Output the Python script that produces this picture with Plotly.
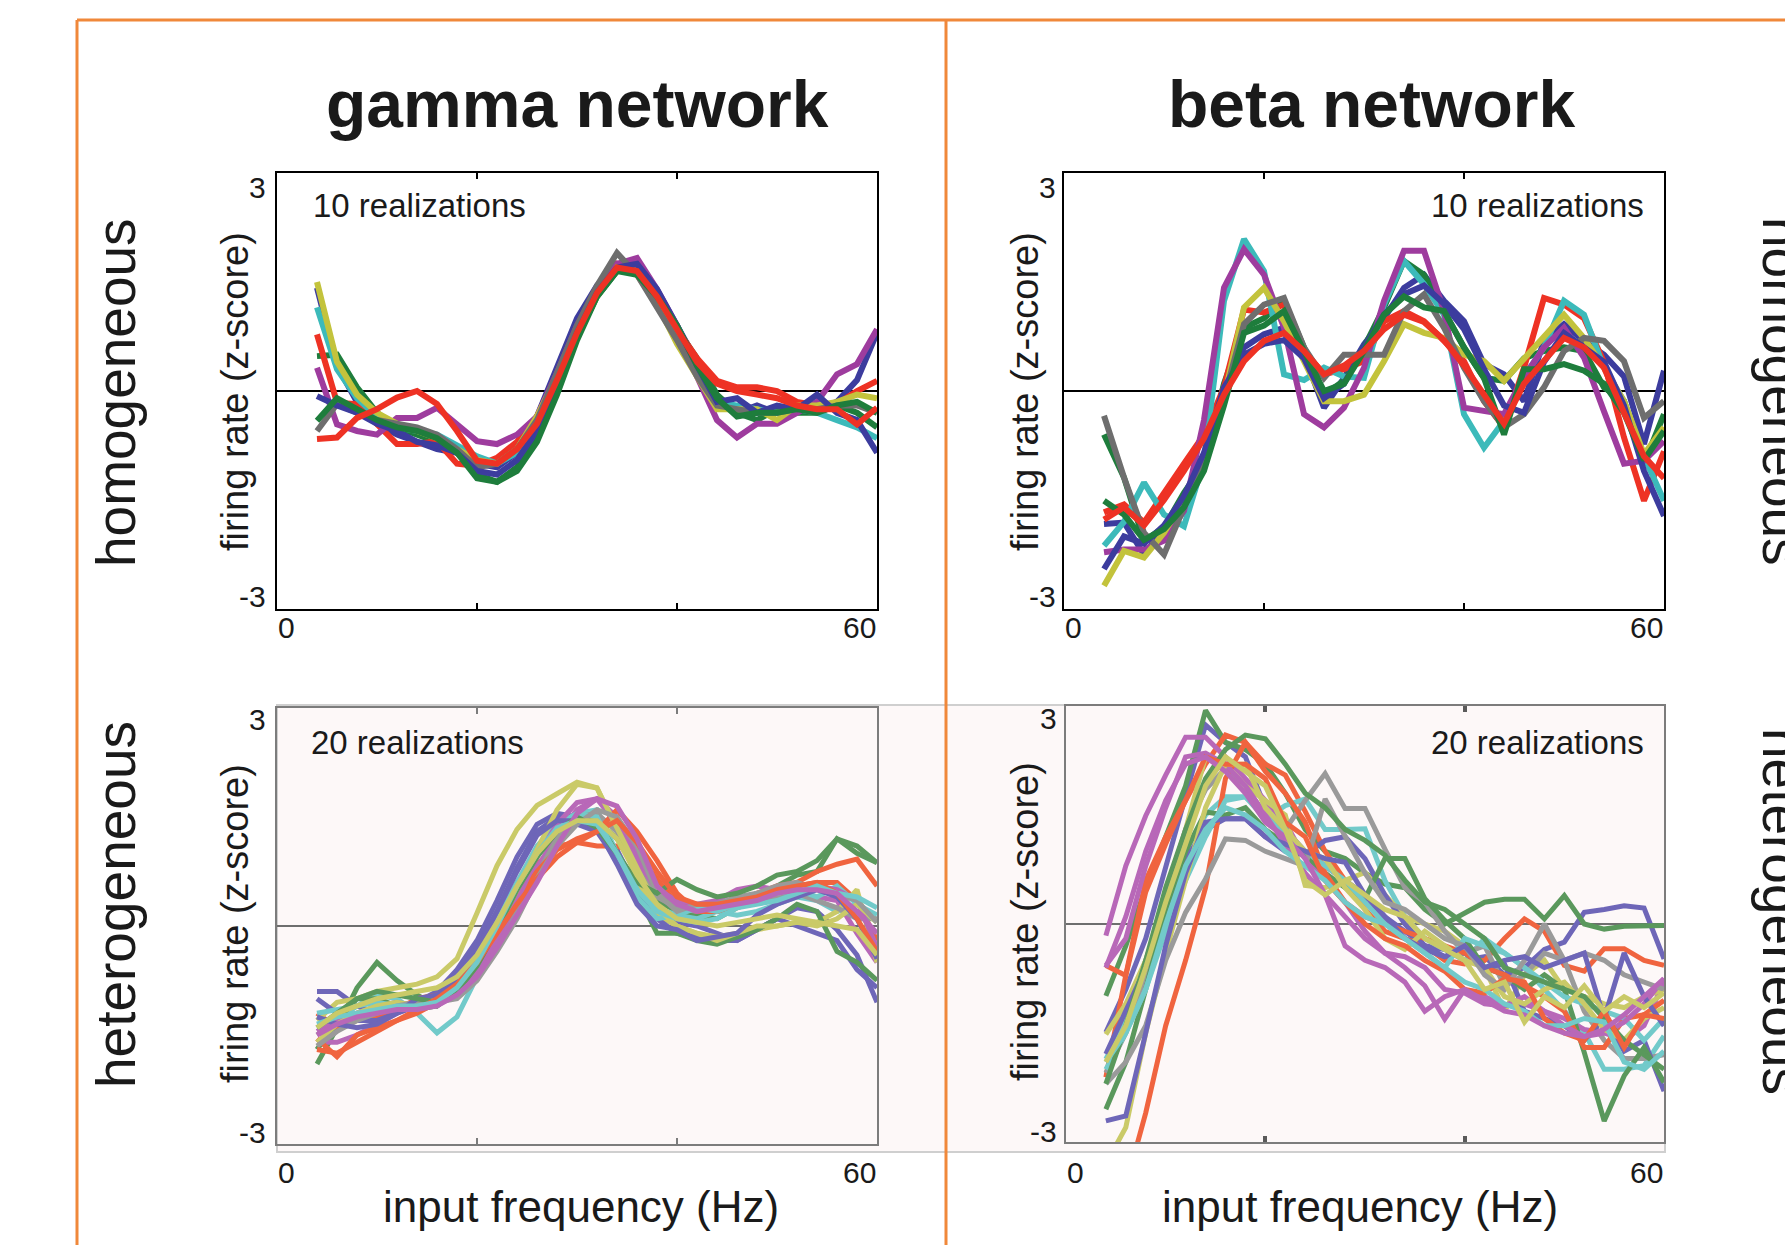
import plotly.graph_objects as go

W, H = 1785, 1245
FONT = "Liberation Sans, Arial, sans-serif"

# ---------------- data ----------------
X_HZ = [4, 6, 8, 10, 12, 14, 16, 18, 20, 22, 24, 26, 28, 30, 32, 34, 36, 38, 40, 42, 44, 46, 48, 50, 52, 54, 56, 58, 60]

COLUMN_TITLES = ["gamma network", "beta network"]
ROW_LABELS = ["homogeneous", "heterogeneous"]
Y_TITLE = "firing rate (z-score)"
X_TITLE = "input frequency (Hz)"
COUNT_LABELS = ["10 realizations", "20 realizations"]
X_TICK_LABELS = ["0", "60"]
Y_TICK_LABELS = ["3", "-3"]

# gamma network, homogeneous (10 realizations)
GAMMA_HOMO = [
    [1.42, 0.35, -0.15, -0.45, -0.6, -0.7, -0.8, -0.85, -1.0, -1.05, -0.85, -0.35, 0.35, 1.0, 1.45, 1.75, 1.7, 1.35, 0.9, 0.4, -0.1, -0.3, -0.2, -0.3, -0.25, -0.25, -0.15, 0.15, 0.8],
    [0.48, 0.5, 0.05, -0.3, -0.5, -0.6, -0.7, -0.8, -1.15, -1.25, -1.05, -0.6, 0.05, 0.75, 1.3, 1.65, 1.65, 1.35, 0.85, 0.45, -0.05, -0.3, -0.4, -0.25, -0.3, -0.3, -0.2, -0.3, -0.5],
    [0.78, -0.16, -0.18, -0.46, -0.73, -0.73, -0.69, -1.0, -1.03, -0.92, -0.7, -0.35, 0.2, 0.85, 1.4, 1.75, 1.7, 1.3, 0.85, 0.45, 0.14, 0.05, 0.05, 0.0, -0.15, -0.2, -0.18, 0.0, 0.14],
    [1.15, 0.3, -0.1, -0.35, -0.5, -0.55, -0.6, -0.75, -0.9, -1.0, -0.85, -0.45, 0.15, 0.8, 1.4, 1.7, 1.65, 1.3, 0.8, 0.3, -0.15, -0.2, -0.25, -0.3, -0.25, -0.3, -0.4, -0.5, -0.65],
    [0.32, -0.46, -0.55, -0.6, -0.37, -0.37, -0.23, -0.46, -0.69, -0.73, -0.6, -0.35, 0.25, 0.9, 1.4, 1.75, 1.83, 1.4, 0.9, 0.2, -0.4, -0.64, -0.45, -0.45, -0.3, -0.15, 0.23, 0.37, 0.85],
    [1.5, 0.4, -0.05, -0.3, -0.45, -0.55, -0.65, -0.8, -0.95, -1.0, -0.8, -0.35, 0.2, 0.75, 1.3, 1.7, 1.6, 1.2, 0.65, 0.2, -0.25, -0.25, -0.25, -0.4, -0.2, -0.2, -0.15, -0.05, -0.1],
    [-0.55, -0.18, -0.3, -0.4, -0.45, -0.5, -0.6, -0.8, -1.05, -1.0, -0.8, -0.4, 0.25, 0.9, 1.45, 1.9, 1.6, 1.15, 0.7, 0.2, -0.2, -0.25, -0.3, -0.3, -0.25, -0.25, -0.2, -0.2, -0.3],
    [-0.07, -0.2, -0.3, -0.45, -0.55, -0.7, -0.75, -0.85, -1.1, -1.15, -0.95, -0.55, 0.1, 0.8, 1.35, 1.7, 1.75, 1.4, 0.9, 0.35, -0.15, -0.1, -0.3, -0.2, -0.25, -0.05, -0.3, -0.4, -0.85],
    [-0.41, -0.1, -0.25, -0.4, -0.5, -0.55, -0.65, -0.85, -1.2, -1.25, -1.1, -0.7, -0.05, 0.7, 1.3, 1.65, 1.6, 1.3, 0.9, 0.35, -0.1, -0.35, -0.3, -0.3, -0.25, -0.3, -0.2, -0.15, -0.3],
    [-0.66, -0.64, -0.37, -0.25, -0.09, 0.0, -0.18, -0.55, -0.96, -1.0, -0.8, -0.45, 0.15, 0.8, 1.35, 1.7, 1.65, 1.3, 0.85, 0.4, 0.1, 0.0, -0.05, -0.1, -0.2, -0.25, -0.25, -0.46, -0.23],
]

# beta network, homogeneous (10 realizations)
BETA_HOMO = [
    [-1.83, -1.81, -2.25, -1.9, -1.5, -0.9, 0.0, 0.6, 0.78, 0.87, 0.5, -0.23, 0.18, 0.64, 1.0, 1.42, 1.6, 1.24, 0.96, 0.37, 0.23, -0.14, 0.69, 0.92, 0.69, 0.5, 0.2, -0.73, 0.28],
    [-0.6, -1.19, -2.06, -1.88, -1.4, -1.0, 0.1, 0.87, 1.0, 1.24, 0.6, -0.05, 0.14, 0.6, 1.15, 1.79, 1.6, 1.1, 0.6, 0.18, 0.14, 0.45, 0.55, 0.6, 0.55, 0.05, -0.14, -1.0, -0.32],
    [-1.67, -1.56, -1.81, -1.42, -1.0, -0.6, 0.05, 1.12, 1.08, 1.19, 0.55, 0.23, 0.3, 0.41, 0.96, 1.1, 0.96, 0.69, 0.41, -0.14, -0.5, 0.32, 1.28, 1.19, 1.0, 0.4, -0.64, -1.51, -0.83],
    [-2.13, -1.8, -1.26, -1.7, -1.86, -0.96, 1.24, 2.09, 1.65, 0.23, 0.15, 0.32, 0.2, 0.18, 1.19, 1.79, 1.47, 1.05, -0.32, -0.78, -0.41, 0.2, 0.6, 1.24, 1.05, 0.32, -0.14, -0.9, -1.51],
    [-2.22, -2.18, -2.18, -2.06, -1.65, -0.4, 1.42, 1.95, 1.6, 0.87, -0.32, -0.5, -0.23, 0.32, 1.24, 1.93, 1.93, 1.1, -0.23, -0.28, -0.32, 0.2, 0.6, 0.87, 0.46, -0.28, -1.0, -0.96, -0.69],
    [-2.68, -2.2, -2.29, -1.95, -1.5, -1.0, -0.1, 1.15, 1.42, 0.96, 0.41, -0.14, -0.14, -0.05, 0.41, 0.92, 0.8, 0.73, 0.5, 0.41, 0.14, 0.45, 0.75, 1.05, 0.73, 0.32, -0.14, -0.87, -0.5],
    [-0.34, -1.19, -1.95, -2.25, -1.6, -1.0, -0.1, 0.92, 1.19, 1.28, 0.6, 0.18, 0.5, 0.5, 0.5, 1.1, 1.33, 0.87, 0.32, -0.14, -0.5, -0.32, 0.05, 0.55, 0.73, 0.69, 0.41, -0.37, -0.14],
    [-2.45, -2.0, -2.1, -1.85, -1.45, -0.85, 0.05, 0.5, 0.65, 0.7, 0.45, -0.1, 0.1, 0.6, 1.05, 1.33, 1.45, 1.2, 0.85, 0.3, -0.2, -0.3, 0.4, 0.8, 0.6, 0.4, -0.2, -1.1, -1.72],
    [-1.51, -1.7, -2.05, -1.9, -1.6, -1.1, -0.2, 0.8, 0.9, 1.1, 0.55, 0.0, 0.1, 0.55, 1.05, 1.3, 1.15, 1.1, 0.6, 0.18, -0.6, 0.3, 0.3, 0.37, 0.28, 0.1, -0.3, -0.95, -0.55],
    [-1.77, -1.6, -1.85, -1.5, -1.1, -0.65, -0.05, 0.41, 0.69, 0.8, 0.55, 0.23, 0.35, 0.55, 0.85, 1.05, 0.95, 0.7, 0.35, -0.05, -0.45, 0.1, 0.4, 0.73, 0.6, 0.32, -0.3, -0.9, -1.2],
]

# gamma network, heterogeneous (20 realizations)
GAMMA_HETERO = [
    [-0.9, -0.9, -1.1, -1.2, -1.15, -1.05, -0.9, -0.6, -0.2, 0.35, 0.95, 1.4, 1.55, 1.5, 1.35, 1.05, 0.5, 0.15, 0.05, 0.0, -0.1, -0.2, -0.05, 0.1, 0.25, 0.2, -0.05, -0.4, -1.05],
    [-1.9, -1.4, -0.85, -0.5, -0.75, -0.95, -1.1, -0.9, -0.6, -0.1, 0.5, 1.0, 1.3, 1.45, 1.45, 1.2, 0.85, 0.35, 0.2, 0.15, 0.1, 0.25, 0.35, 0.55, 0.7, 0.75, 1.2, 1.0, 0.87],
    [-1.2, -1.4, -1.3, -1.25, -1.15, -1.0, -0.95, -0.8, -0.45, 0.0, 0.45, 0.85, 1.1, 1.15, 1.1, 1.1, 1.0, 0.65, 0.3, 0.2, 0.25, 0.3, 0.35, 0.45, 0.55, 0.6, 0.6, 0.35, -0.2],
    [-1.4, -1.3, -1.1, -0.95, -1.0, -1.2, -1.47, -1.25, -0.7, -0.1, 0.55, 1.05, 1.35, 1.55, 1.6, 1.0, 0.55, 0.25, 0.15, 0.1, 0.2, 0.15, 0.2, 0.3, 0.4, 0.35, 0.2, 0.3, 0.15],
    [-1.6, -1.6, -1.5, -1.35, -1.2, -1.1, -1.0, -0.85, -0.55, -0.2, 0.3, 0.8, 1.25, 1.6, 1.75, 1.5, 1.0, 0.45, 0.3, 0.25, 0.3, 0.35, 0.45, 0.5, 0.45, 0.4, 0.35, -0.1, -0.5],
    [-1.3, -1.05, -1.0, -0.9, -0.85, -0.8, -0.7, -0.45, 0.18, 0.83, 1.33, 1.66, 1.82, 1.98, 1.9, 1.3, 0.65, 0.15, 0.0, -0.1, -0.15, -0.1, -0.05, 0.0, 0.05, 0.05, 0.2, 0.5, -0.5],
    [-1.5, -1.3, -1.2, -1.1, -1.05, -1.1, -1.05, -0.95, -0.7, -0.3, 0.2, 0.7, 1.2, 1.5, 1.55, 1.3, 0.85, 0.4, 0.25, 0.2, 0.2, 0.3, 0.35, 0.4, 0.45, 0.35, 0.25, 0.1, 0.1],
    [-1.0, -1.2, -1.3, -1.3, -1.2, -1.1, -1.0, -0.7, -0.3, 0.2, 0.8, 1.3, 1.5, 1.4, 1.3, 0.9, 0.35, 0.1, -0.1, -0.15, -0.2, -0.2, -0.05, 0.1, 0.0, -0.1, -0.2, -0.6, -0.85],
    [-1.7, -1.3, -1.0, -1.0, -1.1, -1.15, -1.1, -0.85, -0.45, 0.05, 0.6, 1.0, 1.35, 1.5, 1.45, 1.0, 0.45, -0.1, -0.1, -0.2, -0.25, -0.15, -0.05, 0.1, 0.3, 0.2, -0.35, -0.5, -0.75],
    [-1.55, -1.8, -1.5, -1.4, -1.3, -1.2, -1.05, -0.85, -0.55, -0.15, 0.35, 0.75, 1.05, 1.2, 1.3, 1.6, 1.3, 0.9, 0.45, 0.2, 0.2, 0.3, 0.45, 0.55, 0.6, 0.75, 0.85, 0.92, 0.55],
    [-1.2, -1.15, -1.1, -1.05, -1.1, -1.15, -1.0, -0.8, -0.4, 0.1, 0.6, 1.1, 1.4, 1.55, 1.5, 0.95, 0.4, 0.1, 0.15, 0.25, 0.2, 0.3, 0.4, 0.45, 0.5, 0.4, 0.55, 0.3, 0.05],
    [-1.45, -1.3, -1.2, -1.15, -1.1, -1.05, -1.1, -0.9, -0.6, -0.2, 0.35, 0.95, 1.4, 1.7, 1.75, 1.4, 0.9, 0.5, 0.35, 0.3, 0.35, 0.5, 0.55, 0.5, 0.45, 0.55, 0.5, 0.35, -0.3],
    [-1.6, -1.35, -1.2, -1.1, -1.05, -1.1, -1.0, -0.85, -0.5, -0.05, 0.5, 1.05, 1.6, 1.95, 1.9, 1.35, 0.8, 0.25, 0.0, -0.1, -0.2, -0.1, 0.0, 0.0, 0.05, 0.0, 0.1, 0.3, 0.05],
    [-1.65, -1.45, -1.3, -1.2, -1.1, -1.05, -1.05, -1.0, -0.75, -0.35, 0.1, 0.65, 1.1, 1.4, 1.6, 1.5, 1.1, 0.45, 0.2, 0.3, 0.3, 0.4, 0.45, 0.55, 0.6, 0.5, 0.45, 0.35, 0.05],
    [-1.25, -1.35, -1.4, -1.35, -1.2, -1.0, -0.95, -0.75, -0.35, 0.2, 0.75, 1.25, 1.45, 1.45, 1.35, 0.85, 0.3, 0.0, -0.05, -0.2, -0.15, -0.1, 0.15, 0.3, 0.4, 0.5, 0.4, 0.1, -0.45],
    [-1.4, -1.2, -1.0, -0.9, -0.95, -1.0, -1.05, -0.9, -0.55, -0.05, 0.5, 0.95, 1.3, 1.5, 1.35, 1.0, 0.6, 0.45, 0.64, 0.5, 0.4, 0.45, 0.55, 0.7, 0.75, 0.9, 1.2, 1.1, 0.87],
    [-1.7, -1.75, -1.6, -1.45, -1.3, -1.15, -1.0, -0.8, -0.5, -0.1, 0.3, 0.65, 0.95, 1.15, 1.3, 1.45, 1.15, 0.75, 0.4, 0.3, 0.3, 0.35, 0.4, 0.5, 0.55, 0.6, 0.45, 0.1, -0.35],
    [-1.35, -1.25, -1.2, -1.15, -1.1, -1.1, -1.05, -0.85, -0.5, 0.0, 0.55, 1.0, 1.35, 1.45, 1.4, 1.0, 0.5, 0.2, 0.1, 0.05, 0.1, 0.25, 0.3, 0.35, 0.45, 0.55, 0.45, 0.4, 0.25],
    [-1.5, -1.35, -1.25, -1.2, -1.15, -1.15, -1.1, -0.95, -0.7, -0.3, 0.15, 0.6, 1.1, 1.55, 1.75, 1.65, 1.2, 0.55, 0.3, 0.2, 0.25, 0.3, 0.35, 0.45, 0.5, 0.5, 0.45, 0.2, -0.1],
    [-1.4, -1.2, -1.1, -1.0, -0.95, -0.9, -0.85, -0.7, -0.4, 0.05, 0.55, 1.0, 1.3, 1.45, 1.45, 1.2, 0.7, 0.3, 0.1, 0.05, 0.0, 0.05, 0.1, 0.15, 0.1, 0.05, 0.0, -0.05, -0.4],
]

# beta network, heterogeneous (20 realizations)
BETA_HETERO = [
    [-1.49, -0.9, -0.2, 0.8, 1.8, 2.74, 2.5, 2.3, 1.6, 1.3, 1.0, 0.8, 0.6, 0.4, 0.1, -0.1, -0.3, -0.35, -0.5, -0.45, -0.7, -0.6, -0.35, -0.25, 0.16, 0.2, 0.25, 0.22, -0.48],
    [-0.99, -0.3, 0.5, 1.2, 1.9, 2.94, 2.5, 2.4, 2.2, 1.8, 1.3, 1.0, 0.9, 0.7, 0.55, 0.5, 0.2, 0.0, 0.15, 0.3, 0.34, 0.34, 0.07, 0.39, 0.0, -0.07, -0.03, -0.03, -0.02],
    [-2.11, -0.7, 0.6, 1.2, 1.7, 2.2, 2.6, 2.5, 2.2, 2.05, 1.55, 1.0, 0.6, 0.2, -0.1, -0.2, -0.3, -0.5, -0.55, -0.5, -0.2, 0.07, -0.1, -0.57, -0.65, -0.34, -0.34, -0.5, -0.57],
    [-1.86, -1.3, -0.5, 0.3, 1.0, 1.5, 1.75, 1.75, 1.45, 1.63, 1.72, 1.3, 1.3, 1.31, 0.6, 0.1, -0.2, -0.35, -0.5, -0.2, -0.4, -0.6, -0.9, -1.2, -1.49, -2.0, -2.0, -1.95, -1.54],
    [-0.16, 0.8, 1.49, 2.05, 2.57, 2.57, 2.3, 2.0, 1.7, 1.4, 0.9, 0.6, 0.3, -0.1, -0.4, -0.45, -0.6, -0.9, -0.95, -1.1, -1.13, -1.1, -1.2, -1.3, -1.45, -1.5, -1.6, -1.4, -0.8],
    [-1.52, -1.1, -0.5, 0.3, 1.3, 2.3, 2.2, 1.9, 1.7, 1.5, 0.53, 0.5, 0.6, 0.71, 0.4, 0.1, 0.0, -0.1, -0.3, -0.6, -1.2, -0.7, -0.5, -0.9, -1.0, -1.1, -1.15, -1.0, -0.9],
    [-2.05, -1.5, -0.7, 0.4, 1.3, 1.85, 2.14, 1.9, 1.5, 1.3, 1.7, 2.07, 1.59, 1.59, 1.03, 0.5, 0.3, -0.1, -0.4, -0.3, -0.85, -0.7, -0.4, -0.5, -1.2, -1.6, -1.85, -1.85, -1.8],
    [-1.79, -1.2, -0.6, 0.2, 0.9, 1.3, 1.45, 1.45, 1.2, 1.0, 0.95, 1.15, 1.2, 0.9, 0.4, 0.0, -0.3, -0.45, -0.4, -0.6, -0.55, -1.2, -1.3, -1.4, -1.6, -1.3, -1.75, -1.6, -2.3],
    [-2.55, -1.9, -0.9, 0.2, 1.0, 1.54, 1.5, 1.6, 1.3, 1.1, 0.95, 0.7, 0.5, 0.35, 0.9, 0.9, 0.35, 0.05, -0.2, -0.6, -0.7, -0.9, -0.7, -0.9, -1.77, -2.71, -2.09, -1.7, -2.18],
    [-4.8, -3.6, -2.6, -1.4, -0.5, 0.5, 2.0, 2.5, 2.1, 1.8, 1.4, 0.7, 0.3, 0.1, 0.0, -0.1, -0.2, -0.3, -0.4, -0.6, -0.7, -0.85, -1.0, -1.2, -1.7, -1.7, -1.3, -1.25, -1.05],
    [-2.0, -1.5, -0.9, -0.1, 0.6, 1.2, 1.7, 1.75, 1.5, 1.2, 1.0, 0.8, 0.6, 0.3, 0.0, -0.2, -0.4, -0.6, -0.2, -0.3, -0.4, -0.6, -0.8, -1.0, -1.1, -1.2, -1.3, -1.6, -1.3],
    [-0.57, -0.2, 0.8, 1.6, 2.3, 2.35, 2.2, 1.9, 1.5, 1.1, 0.7, 0.4, 0.1, -0.2, -0.4, -0.6, -0.85, -1.31, -0.9, -1.0, -1.13, -1.0, -1.2, -1.4, -1.55, -1.5, -1.35, -1.1, -0.75],
    [-3.3, -2.8, -1.5, -0.4, 0.6, 1.6, 2.2, 2.2, 1.6, 1.3, 1.0, 0.9, 0.5, 0.2, -0.2, -0.35, -0.1, -0.3, -0.5, -0.6, -1.0, -1.1, -0.9, -0.8, -1.1, -1.45, -1.6, -1.3, -1.15],
    [-2.2, -1.9, -1.4, -0.5, 0.16, 0.62, 1.17, 1.15, 1.0, 0.9, 0.8, 1.72, 1.2, 0.7, 0.3, 0.2, 0.0, -0.2, -0.3, -0.7, -0.9, -0.5, 0.0, -0.5, -0.4, -0.5, -0.7, -0.8, -0.9],
    [-2.71, -2.64, -1.5, -0.3, 0.7, 1.4, 1.45, 1.45, 1.2, 1.1, 1.0, 0.9, 0.85, 0.4, 0.1, -0.2, -0.35, -0.45, -0.3, -0.6, -0.5, -0.45, -0.6, -0.5, -0.4, -1.3, -0.4, -1.0, -1.4],
    [-2.2, -1.4, -0.5, 0.5, 1.3, 2.0, 2.4, 2.6, 2.55, 2.2, 1.8, 1.6, 1.3, 1.15, 0.95, 0.6, 0.3, 0.2, 0.0, -0.2, -0.6, -0.7, -0.8, -0.9, -1.0, -1.3, -1.6, -1.8, -2.0],
    [-0.57, -0.71, 0.44, 1.1, 1.7, 2.3, 2.2, 2.2, 2.0, 1.4, 1.2, 0.6, 0.3, 0.0, -0.2, -0.3, -0.5, -0.65, -0.9, -0.95, -0.75, -0.8, -1.3, -1.5, -1.6, -1.2, -1.7, -1.25, -1.3],
    [-1.9, -1.5, -0.9, 0.0, 0.8, 1.3, 1.6, 1.5, 1.3, 1.0, 0.8, 0.6, 0.3, 0.1, 0.0, -0.2, -0.4, -0.6, -0.8, -0.9, -1.1, -1.2, -1.4, -1.4, -1.3, -1.35, -1.9, -2.0, -1.75],
    [-0.6, 0.1, 1.0, 1.7, 2.2, 2.3, 2.1, 1.8, 1.4, 1.2, 0.9, 0.4, -0.3, -0.5, -0.6, -0.8, -1.2, -1.0, -0.9, -1.05, -1.2, -1.25, -1.4, -1.5, -1.55, -1.45, -1.25, -1.0, -0.75],
    [-1.9, -1.4, -0.6, 0.3, 1.1, 1.9, 2.3, 2.1, 1.9, 1.3, 0.6, 0.4, 0.6, 0.4, 0.2, 0.1, -0.2, -0.35, -0.5, -0.9, -0.8, -1.35, -1.0, -1.15, -0.85, -1.2, -1.0, -1.15, -0.95],
]

TOP_COLORS = ["#3c3c9e", "#1e7d3c", "#ee3224", "#3cbaba", "#9e3c9e", "#c3c33c", "#6e6e6e"]
BOTTOM_COLORS = ["#6e66b8", "#5a985c", "#f0643f", "#72caca", "#b868b8", "#caca68", "#9a9a9a"]

# ---------------- layout helpers ----------------
def px(x):
    return x / W

def py(y):
    return 1 - y / H

# panel boxes in pixels: (left, right, top, bottom)
PANELS = {
    "tl": (277, 877, 173, 609),
    "tr": (1064, 1664, 173, 609),
    "bl": (277, 877, 708, 1144),
    "br": (1066, 1664, 706, 1142),
}
PANEL_ORDER = ["tl", "tr", "bl", "br"]
PANEL_DATA = {"tl": GAMMA_HOMO, "tr": BETA_HOMO, "bl": GAMMA_HETERO, "br": BETA_HETERO}

fig = go.Figure()

for i, key in enumerate(PANEL_ORDER):
    n = "" if i == 0 else str(i + 1)
    top_row = key in ("tl", "tr")
    colors = TOP_COLORS if top_row else BOTTOM_COLORS
    width = 6 if top_row else 5
    for j, series in enumerate(PANEL_DATA[key]):
        fig.add_trace(go.Scatter(
            x=X_HZ, y=series, mode="lines",
            line=dict(color=colors[j % len(colors)], width=width),
            xaxis="x" + n, yaxis="y" + n,
            showlegend=False, hoverinfo="skip",
        ))
    l, r, t, b = PANELS[key]
    frame_col = "black" if top_row else "#7c7c7c"
    tick_col = "black" if top_row else ("#7c7c7c" if key == "bl" else "#5a5a5a")
    fig.layout["xaxis" + n] = dict(
        domain=[px(l), px(r)], range=[0, 60], anchor="y" + n,
        showline=True, linecolor=frame_col, linewidth=2, mirror="ticks",
        ticks="inside", tickvals=[20, 40], ticklen=6,
        tickcolor=tick_col, tickwidth=2 if key != "br" else 4,
        showticklabels=False, showgrid=False, zeroline=False,
    )
    fig.layout["yaxis" + n] = dict(
        domain=[py(b), py(t)], range=[-3, 3], anchor="x" + n,
        showline=True, linecolor=frame_col, linewidth=2, mirror=True,
        ticks="", showticklabels=False, showgrid=False,
        zeroline=True, zerolinecolor="black" if top_row else "#6e6e6e", zerolinewidth=2,
    )

annotations = []

def add_text(text, x, y, size, xanchor="center", yanchor="middle", angle=0, bold=False, color="#1a1a1a"):
    annotations.append(dict(
        text=("<b>%s</b>" % text) if bold else text,
        x=px(x), y=py(y), xref="paper", yref="paper",
        xanchor=xanchor, yanchor=yanchor, textangle=angle,
        showarrow=False, borderpad=0,
        font=dict(family=FONT, size=size, color=color),
    ))

# column titles
add_text(COLUMN_TITLES[0], 577, 104, 66, bold=True)
add_text(COLUMN_TITLES[1], 1371, 104, 66, bold=True)
# row labels (left, reading upward) and right (cut off at the page edge, reading downward)
add_text(ROW_LABELS[0], 116, 393, 55, angle=-90)
add_text(ROW_LABELS[1], 116, 905, 55, angle=-90)
add_text(ROW_LABELS[0], 1782, 391, 55, angle=90)
add_text(ROW_LABELS[1], 1782, 911, 55, angle=90)
# y titles
for (xc, yc) in [(235, 392), (235, 924), (1025, 392), (1025, 922)]:
    add_text(Y_TITLE, xc, yc, 38, angle=-90)
# x titles
add_text(X_TITLE, 581, 1206, 44)
add_text(X_TITLE, 1360, 1206, 44)
# realization counts
add_text(COUNT_LABELS[0], 312, 205, 33, xanchor="left")
add_text(COUNT_LABELS[0], 1645, 205, 33, xanchor="right")
add_text(COUNT_LABELS[1], 310, 742, 33, xanchor="left")
add_text(COUNT_LABELS[1], 1645, 742, 33, xanchor="right")
# tick labels
TICK_POS = {
    "tl": dict(ytop=187, ybot=597, yright=267, xrow=627),
    "tr": dict(ytop=187, ybot=597, yright=1057, xrow=627),
    "bl": dict(ytop=719, ybot=1132, yright=267, xrow=1172),
    "br": dict(ytop=718, ybot=1131, yright=1058, xrow=1172),
}
for key in PANEL_ORDER:
    l, r, t, b = PANELS[key]
    p = TICK_POS[key]
    add_text(Y_TICK_LABELS[0], p["yright"], p["ytop"], 30, xanchor="right")
    add_text(Y_TICK_LABELS[1], p["yright"], p["ybot"], 30, xanchor="right")
    add_text(X_TICK_LABELS[0], l, p["xrow"], 30, xanchor="left")
    add_text(X_TICK_LABELS[1], r, p["xrow"], 30, xanchor="right")

shapes = [
    # heterogeneous row background
    dict(type="rect", xref="paper", yref="paper", x0=px(277), x1=px(1665), y0=py(1152), y1=py(705),
         fillcolor="#fdf8f8", line=dict(color="#cfcfcf", width=2), layer="below"),
    # orange frame
    dict(type="line", xref="paper", yref="paper", x0=px(77), x1=px(1790), y0=py(20), y1=py(20),
         line=dict(color="#f0883a", width=3), layer="above"),
    dict(type="line", xref="paper", yref="paper", x0=px(77), x1=px(77), y0=py(20), y1=py(1250),
         line=dict(color="#f0883a", width=3), layer="above"),
    dict(type="line", xref="paper", yref="paper", x0=px(946), x1=px(946), y0=py(20), y1=py(1250),
         line=dict(color="#f0883a", width=3), layer="above"),
]

fig.update_layout(
    width=W, height=H, margin=dict(l=0, r=0, t=0, b=0),
    paper_bgcolor="white", plot_bgcolor="rgba(0,0,0,0)",
    annotations=annotations, shapes=shapes,
    font=dict(family=FONT),
)

fig.write_html("out.html")
